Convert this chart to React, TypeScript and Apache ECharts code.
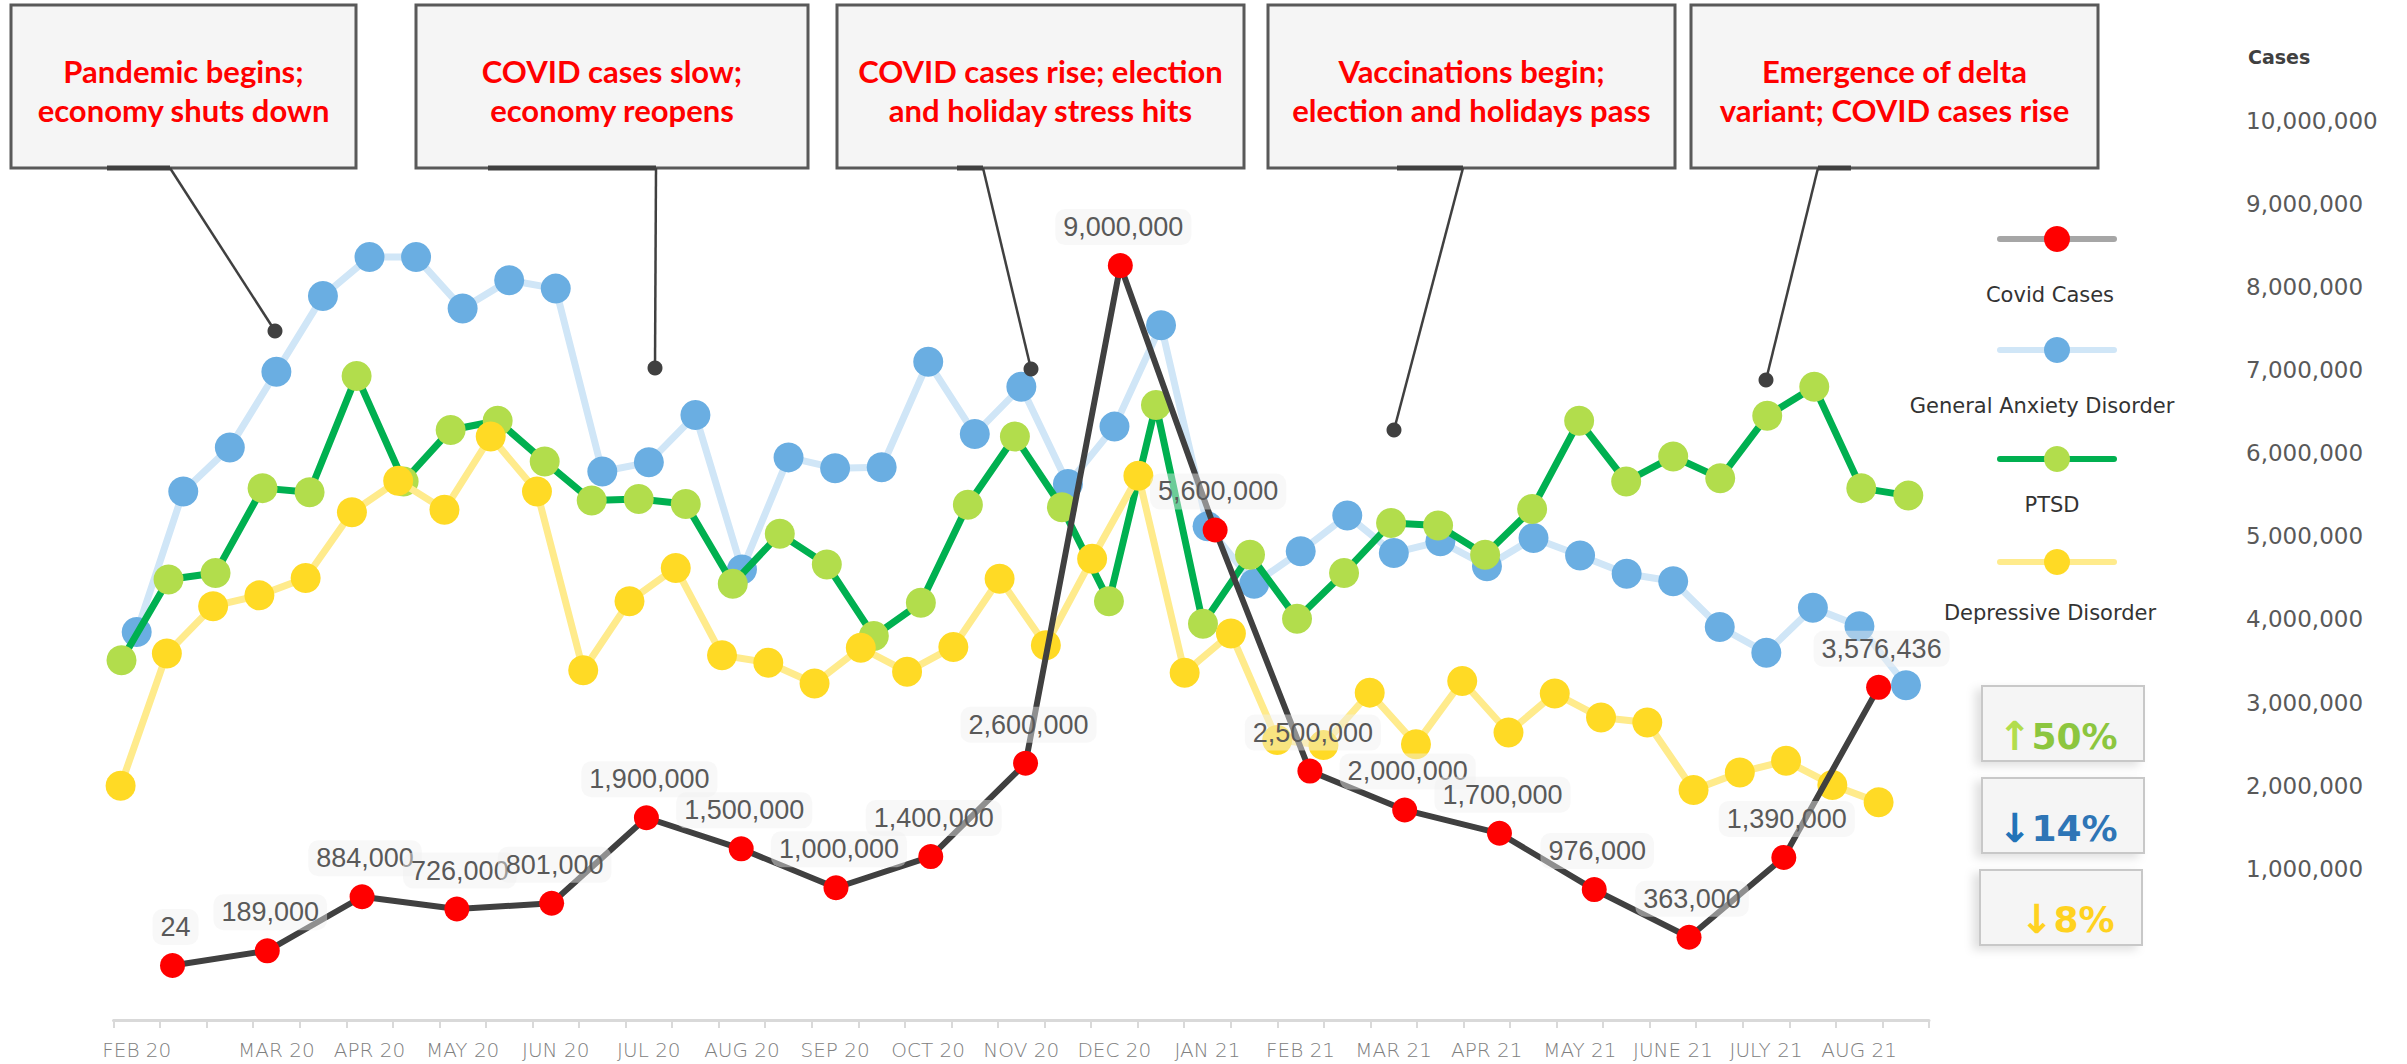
import React, { useEffect, useRef } from 'react';
import * as echarts from 'echarts';

// ---------- DATA ----------
const axisMonthLabels = ['FEB 20', '', '', 'MAR 20', '', 'APR 20', '', 'MAY 20', '', 'JUN 20', '', 'JUL 20', '', 'AUG 20', '', 'SEP 20', '', 'OCT 20', '', 'NOV 20', '', 'DEC 20', '', 'JAN 21', '', 'FEB 21', '', 'MAR 21', '', 'APR 21', '', 'MAY 21', '', 'JUNE 21', '', 'JULY 21', '', 'AUG 21', ''];

const covidMonths = ['Feb 20', 'Mar 20', 'Apr 20', 'May 20', 'Jun 20', 'Jul 20', 'Aug 20', 'Sep 20', 'Oct 20', 'Nov 20', 'Dec 20', 'Jan 21', 'Feb 21', 'Mar 21', 'Apr 21', 'May 21', 'Jun 21', 'Jul 21', 'Aug 21'];

const covidCases = [24, 189000, 884000, 726000, 801000, 1900000, 1500000, 1000000, 1400000, 2600000, 9000000, 5600000, 2500000, 2000000, 1700000, 976000, 363000, 1390000, 3576436];

const anxiety = [3850000, 5540000, 6070000, 6980000, 7890000, 8360000, 8360000, 7740000, 8080000, 7980000, 5780000, 5890000, 6460000, 4600000, 5950000, 5820000, 5830000, 7100000, 6230000, 6800000, 5630000, 6320000, 7540000, 5120000, 4430000, 4820000, 5250000, 4800000, 4940000, 4640000, 4980000, 4770000, 4550000, 4460000, 3910000, 3600000, 4140000, 3920000, 3210000];

const ptsd = [3510000, 4480000, 4560000, 5580000, 5530000, 6930000, 5660000, 6280000, 6390000, 5900000, 5430000, 5450000, 5390000, 4430000, 5030000, 4660000, 3800000, 4200000, 5380000, 6200000, 5350000, 4220000, 6580000, 3950000, 4780000, 4010000, 4560000, 5160000, 5130000, 4780000, 5330000, 6390000, 5660000, 5960000, 5700000, 6450000, 6800000, 5580000, 5490000];

const depressive = [2000000, 3590000, 4160000, 4290000, 4500000, 5290000, 5670000, 5320000, 6200000, 5540000, 3390000, 4220000, 4620000, 3570000, 3480000, 3230000, 3660000, 3370000, 3670000, 4490000, 3690000, 4730000, 5730000, 3360000, 3830000, 2550000, 2490000, 3120000, 2500000, 3260000, 2640000, 3110000, 2820000, 2760000, 1950000, 2160000, 2300000, 2010000, 1800000];

const seriesNames = ['Covid Cases', 'General Anxiety Disorder', 'PTSD', 'Depressive Disorder'];

const annotationTexts = [
  'Pandemic begins;\neconomy shuts down',
  'COVID cases slow;\neconomy reopens',
  'COVID cases rise; election\nand holiday stress hits',
  'Vaccinations begin;\nelection and holidays pass',
  'Emergence of delta\nvariant; COVID cases rise',
];

const changeArrows = ['↑', '↓', '↓'];
const changeTexts = ['50%', '14%', '8%'];

// ---------- STYLE / LAYOUT ----------
const W = 2407;
const H = 1064;
const COLORS = {
  covidLine: '#404040', covidDot: '#ff0000', covidLegendLine: '#a6a6a6',
  gadLine: '#d0e6f7', gadDot: '#6aaee2',
  ptsdLine: '#00b050', ptsdDot: '#b2dd4c',
  depLine: '#ffeb8c', depDot: '#ffda25',
};

const boxes = [
  { x1: 11, x2: 356, stub: [107, 170], start: 170, end: [275, 331] },
  { x1: 416, x2: 808, stub: [488, 656], start: 656, end: [655, 368] },
  { x1: 837, x2: 1244, stub: [957, 983], start: 983, end: [1031, 369] },
  { x1: 1268, x2: 1675, stub: [1397, 1463], start: 1463, end: [1394, 430] },
  { x1: 1691, x2: 2098, stub: [1818, 1851], start: 1818, end: [1766, 380] },
];

const legendLayout = [
  { y: 239, ty: 295, tx: 2050, line: COLORS.covidLegendLine, dot: COLORS.covidDot },
  { y: 350, ty: 406, tx: 2042, line: COLORS.gadLine, dot: COLORS.gadDot },
  { y: 459, ty: 505, tx: 2052, line: COLORS.ptsdLine, dot: COLORS.ptsdDot },
  { y: 562, ty: 613, tx: 2050, line: COLORS.depLine, dot: COLORS.depDot },
];

const pctLayout = [
  { x: 1982, y: 686, tx: 1998, ty: 736, arrow: '#b2dd4c', text: '#8cc63f' },
  { x: 1982, y: 778, tx: 1998, ty: 828, arrow: '#2273b8', text: '#2e75b6' },
  { x: 1980, y: 870, tx: 2020, ty: 919, arrow: '#ffd21f', text: '#ffd21f' },
];

function buildGraphics() {
  const els: any[] = [];
  boxes.forEach((b, i) => {
    els.push({
      type: 'rect', z: 10,
      shape: { x: b.x1, y: 5, width: b.x2 - b.x1, height: 163 },
      style: { fill: '#f5f5f5', stroke: '#595959', lineWidth: 3 },
    });
    els.push({
      type: 'line', z: 11,
      shape: { x1: b.stub[0], y1: 168, x2: b.stub[1], y2: 168 },
      style: { stroke: '#404040', lineWidth: 5 },
    });
    els.push({
      type: 'text', z: 12,
      style: {
        text: annotationTexts[i], x: (b.x1 + b.x2) / 2, y: 90,
        textAlign: 'center', textVerticalAlign: 'middle',
        fontFamily: 'Lato, "Liberation Sans Narrow", sans-serif', fontWeight: 'bold', fontSize: 31,
        lineHeight: 39, fill: '#ff0000',
      },
    });
    els.push({
      type: 'line', z: 11,
      shape: { x1: b.start, y1: 168, x2: b.end[0], y2: b.end[1] },
      style: { stroke: '#404040', lineWidth: 2.5 },
    });
    els.push({
      type: 'circle', z: 11,
      shape: { cx: b.end[0], cy: b.end[1], r: 7.5 },
      style: { fill: '#404040' },
    });
  });

  legendLayout.forEach((l, i) => {
    els.push({ type: 'line', z: 10, shape: { x1: 2000, y1: l.y, x2: 2114, y2: l.y }, style: { stroke: l.line, lineWidth: 6, lineCap: 'round' } });
    els.push({ type: 'circle', z: 11, shape: { cx: 2057, cy: l.y, r: 13 }, style: { fill: l.dot } });
    els.push({
      type: 'text', z: 11,
      style: { text: seriesNames[i], x: l.tx, y: l.ty, textAlign: 'center', textVerticalAlign: 'middle', fontFamily: '"DejaVu Sans", sans-serif', fontSize: 21, fill: '#333333' },
    });
  });

  pctLayout.forEach((p, i) => {
    els.push({
      type: 'rect', z: 10,
      shape: { x: p.x, y: p.y, width: 162, height: 75 },
      style: { fill: '#f5f5f5', stroke: '#c8c8c8', lineWidth: 2, shadowBlur: 10, shadowColor: 'rgba(0,0,0,0.12)', shadowOffsetX: -6, shadowOffsetY: 4 },
    });
    els.push({
      type: 'text', z: 11,
      style: {
        text: `{a|${changeArrows[i]}}{b|${changeTexts[i]}}`, x: p.tx, y: p.ty, textAlign: 'left', textVerticalAlign: 'middle',
        rich: {
          a: { fontFamily: '"DejaVu Sans", sans-serif', fontWeight: 'bold', fontSize: 40, fill: p.arrow, color: p.arrow },
          b: { fontFamily: '"DejaVu Sans", sans-serif', fontWeight: 'bold', fontSize: 36, fill: p.text, color: p.text },
        },
      },
    });
  });

  els.push({
    type: 'text', z: 11,
    style: { text: 'Cases', x: 2248, y: 57, textAlign: 'left', textVerticalAlign: 'middle', fontFamily: '"DejaVu Sans", sans-serif', fontWeight: 'bold', fontSize: 19, fill: '#404040' },
  });
  return els;
}

export default function App() {
  const ref = useRef<HTMLDivElement>(null);
  useEffect(() => {
    if (!ref.current) return;
    const chart = echarts.init(ref.current, null, { renderer: 'svg', width: W, height: H });
    const hiddenY = (gridIndex: number) => ({ gridIndex, type: 'value', min: 0, max: 10000000, show: false, splitLine: { show: false } });
    const hiddenX = (gridIndex: number, data: string[]) => ({ gridIndex, type: 'category', data, boundaryGap: false, show: false });
    const option: any = {
      animation: false,
      backgroundColor: '#ffffff',
      tooltip: { show: false },
      grid: [
        { left: 113.5, right: W - 1929, top: 120.7, bottom: H - 1020 },
        { left: 136.7, right: W - 1906, top: 120.7, bottom: H - 952 },
        { left: 121.5, right: W - 1908.3, top: 120.7, bottom: H - 952 },
        { left: 120.6, right: W - 1878.6, top: 120.7, bottom: H - 952 },
        { left: 172.5, right: W - 1878.6, top: 187.8, bottom: H - 965.5 },
      ],
      xAxis: [
        {
          gridIndex: 0, type: 'category', data: axisMonthLabels, boundaryGap: true,
          axisLine: { show: true, lineStyle: { color: '#d9d9d9', width: 3 } },
          axisTick: { show: true, interval: 0, length: 8, lineStyle: { color: '#d9d9d9', width: 2 } },
          axisLabel: { interval: 0, margin: 19, color: '#808080', fontSize: 20, fontWeight: 200, fontFamily: '"DejaVu Sans", sans-serif', lineHeight: 22 },
          splitLine: { show: false },
        },
        hiddenX(1, axisMonthLabels),
        hiddenX(2, axisMonthLabels),
        hiddenX(3, axisMonthLabels),
        hiddenX(4, covidMonths),
      ],
      yAxis: [
        hiddenY(0),
        {
          gridIndex: 1, type: 'value', min: 0, max: 10000000, interval: 1000000, position: 'right',
          axisLine: { show: false }, axisTick: { show: false }, splitLine: { show: false },
          axisLabel: {
            margin: 340, color: '#595959', fontSize: 23, fontFamily: '"DejaVu Sans", sans-serif',
            formatter: (v: number) => (v === 0 ? '' : v.toLocaleString('en-US')),
          },
        },
        hiddenY(2),
        hiddenY(3),
        hiddenY(4),
      ],
      series: [
        {
          name: seriesNames[1], type: 'line', xAxisIndex: 1, yAxisIndex: 1, data: anxiety, z: 2,
          symbol: 'circle', symbolSize: 30, itemStyle: { color: COLORS.gadDot }, lineStyle: { color: COLORS.gadLine, width: 7 },
          silent: true,
        },
        {
          name: seriesNames[2], type: 'line', xAxisIndex: 2, yAxisIndex: 2, data: ptsd, z: 3,
          symbol: 'circle', symbolSize: 30, itemStyle: { color: COLORS.ptsdDot }, lineStyle: { color: COLORS.ptsdLine, width: 7 },
          silent: true,
        },
        {
          name: seriesNames[3], type: 'line', xAxisIndex: 3, yAxisIndex: 3, data: depressive, z: 4,
          symbol: 'circle', symbolSize: 30, itemStyle: { color: COLORS.depDot }, lineStyle: { color: COLORS.depLine, width: 7 },
          silent: true,
        },
        {
          name: seriesNames[0], type: 'line', xAxisIndex: 4, yAxisIndex: 4, data: covidCases, z: 5,
          symbol: 'circle', symbolSize: 25, itemStyle: { color: COLORS.covidDot }, lineStyle: { color: COLORS.covidLine, width: 6 },
          silent: true,
          label: {
            show: true, position: 'top', distance: 8, offset: [3, 0],
            formatter: (p: any) => Number(p.value).toLocaleString('en-US'),
            fontFamily: '"Liberation Sans", Arial, sans-serif', fontSize: 27, color: '#595959',
            backgroundColor: 'rgba(240,240,240,0.45)', padding: [3, 8], borderRadius: 10, lineHeight: 30,
          },
        },
      ],
      graphic: buildGraphics(),
    };
    chart.setOption(option);
    return () => chart.dispose();
  }, []);
  return <div ref={ref} style={{ position: 'absolute', left: 0, top: 0, width: W, height: H }} />;
}
